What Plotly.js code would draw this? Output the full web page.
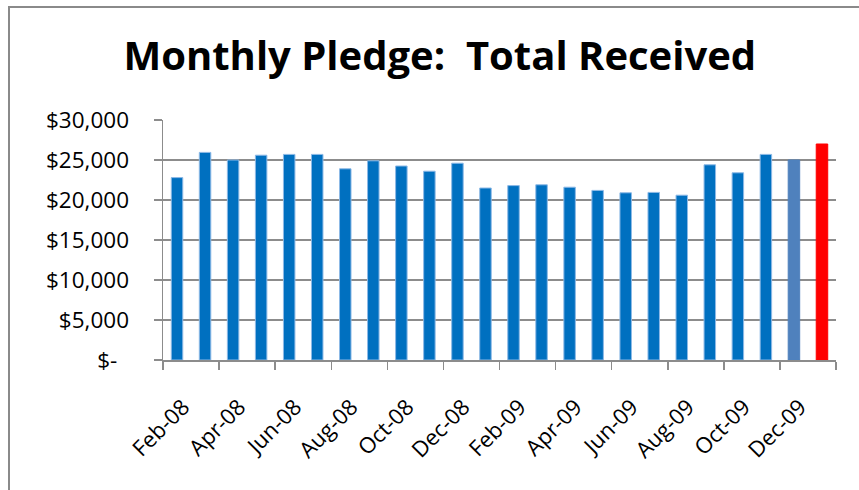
<!DOCTYPE html>
<html>
<head>
<meta charset="utf-8">
<script src="https://cdn.plot.ly/plotly-3.0.1.min.js"></script>
<style>
  html, body { margin: 0; padding: 0; background: #fff; }
  #chart { width: 859px; height: 490px; }
  #frame { position: absolute; left: 8px; top: 6px; width: 900px; height: 600px;
           border-left: 2px solid #8a8a8a; border-top: 2px solid #8a8a8a; pointer-events: none; }
</style>
</head>
<body>
<div id="chart"></div>
<div id="frame"></div>
<script>
const months = ["Feb-08","Mar-08","Apr-08","May-08","Jun-08","Jul-08","Aug-08","Sep-08",
  "Oct-08","Nov-08","Dec-08","Jan-09","Feb-09","Mar-09","Apr-09","May-09","Jun-09","Jul-09",
  "Aug-09","Sep-09","Oct-09","Nov-09","Dec-09","Jan-10"];
const totalReceived = [22800,25950,25000,25600,25700,25700,23900,24900,24250,23600,24600,21500,
  21800,21900,21600,21200,20900,20950,20600,24400,23400,25700,25000,27000];
const yTickVals = [0,5000,10000,15000,20000,25000,30000];
const yTickText = ["$-\u00a0\u00a0","$5,000","$10,000","$15,000","$20,000","$25,000","$30,000"];

const barColors = months.map((m, i) =>
  i === months.length - 1 ? "#FF0000" : (i === months.length - 2 ? "#4F81BD" : "#0070C0"));
const lineColors = months.map((m, i) =>
  i === months.length - 1 ? "#FF0000" : (i === months.length - 2 ? "#4F81BD" : "#8DB9E6"));

const trace = {
  type: "bar",
  x: months,
  y: totalReceived,
  marker: { color: barColors, line: { color: lineColors, width: 1 } },
  hoverinfo: "x+y"
};

const gridColor = "#8c8c8c";
const layout = {
  width: 859, height: 490,
  margin: { l: 163, r: 23, t: 120, b: 130 },
  paper_bgcolor: "#fff", plot_bgcolor: "#fff",
  bargap: 0.59,
  showlegend: false,
  title: {
    text: "<b>Monthly Pledge:  Total Received</b>",
    font: { family: "Open Sans", size: 40, color: "#000" },
    x: 0.512, xanchor: "center", y: 0.885, yanchor: "middle"
  },
  xaxis: {
    type: "category",
    tickmode: "linear", tick0: 0, dtick: 2,
    tickson: "boundaries",
    ticks: "outside", ticklen: 8, tickcolor: gridColor, tickwidth: 1.5,
    showline: true, linecolor: gridColor, linewidth: 1.5,
    showgrid: false,
    tickangle: -45,
    ticklabelstandoff: 24,
    ticklabelshift: 6,
    tickfont: { family: "Open Sans", size: 22, color: "#000" }
  },
  yaxis: {
    range: [0, 30000],
    tickmode: "array", tickvals: yTickVals, ticktext: yTickText,
    ticks: "outside", ticklen: 8, tickcolor: gridColor, tickwidth: 1.5,
    showline: true, linecolor: gridColor, linewidth: 1.5,
    showgrid: true, gridcolor: gridColor, gridwidth: 1.5,
    zeroline: false,
    ticklabelstandoff: 20,
    tickfont: { family: "Open Sans", size: 22.5, color: "#000" }
  }
};

Plotly.newPlot("chart", [trace], layout, { displayModeBar: false, staticPlot: true });
</script>
</body>
</html>
